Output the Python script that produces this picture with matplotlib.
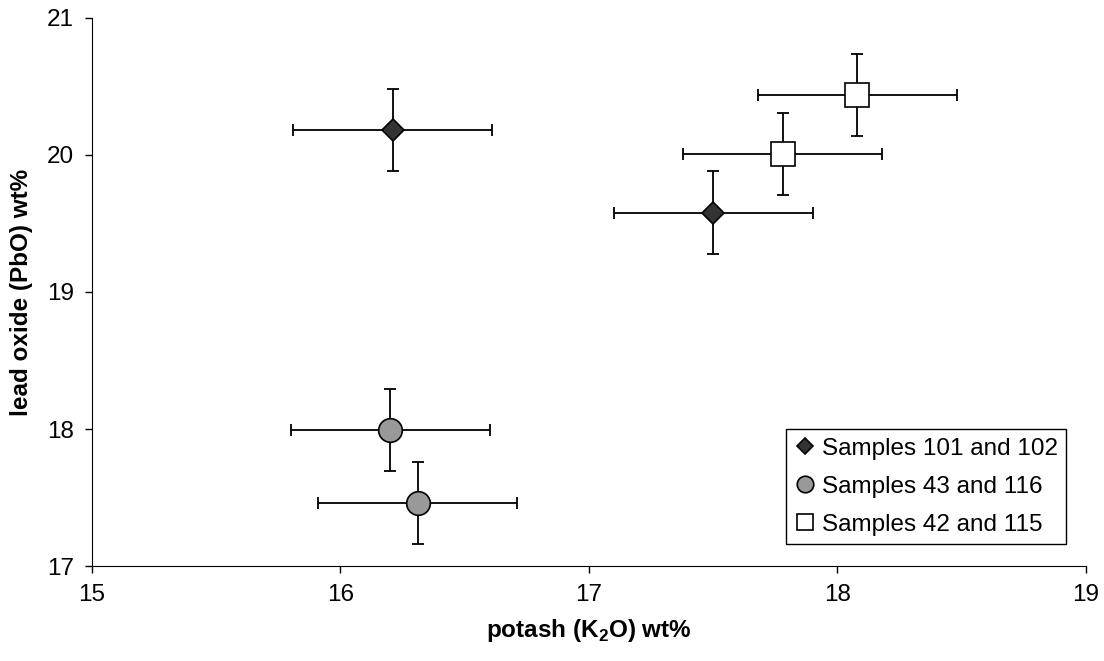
import matplotlib
matplotlib.use('Agg')
import matplotlib.pyplot as plt

plt.rcParams['font.family'] = ['Liberation Sans', 'DejaVu Sans']

# samples 101 and 102
x_dia = [16.21, 17.50]
y_dia = [20.18, 19.58]
# samples 43 and 116
x_circ = [16.20, 16.31]
y_circ = [17.99, 17.46]
# samples 42 and 115
x_sq = [17.78, 18.08]
y_sq = [20.01, 20.44]

xerr = 0.4
yerr = 0.3

labels = ['Samples 101 and 102', 'Samples 43 and 116', 'Samples 42 and 115']

fig = plt.figure(figsize=(11.04, 6.61), dpi=100)
ax = fig.add_axes([0.0833, 0.1437, 0.9004, 0.8291])

for xs, ys in [(x_dia, y_dia), (x_circ, y_circ), (x_sq, y_sq)]:
    ax.errorbar(xs, ys, xerr=xerr, yerr=yerr, fmt='none', ecolor='black',
                elinewidth=1.3, capsize=4, capthick=1.3, zorder=2)

ax.plot(x_dia, y_dia, 'D', ms=11.7, mfc='#333333', mec='black', mew=1.2,
        ls='none', label=labels[0], zorder=3)
ax.plot(x_circ, y_circ, 'o', ms=17, mfc='#999999', mec='black', mew=1.2,
        ls='none', label=labels[1], zorder=3)
ax.plot(x_sq, y_sq, 's', ms=17, mfc='white', mec='black', mew=1.2,
        ls='none', label=labels[2], zorder=3)

ax.set_xlim(15, 19)
ax.set_ylim(17, 21)
ax.set_xticks([15, 16, 17, 18, 19])
ax.set_yticks([17, 18, 19, 20, 21])
ax.spines['top'].set_visible(False)
ax.spines['right'].set_visible(False)
ax.tick_params(direction='out', length=5, width=1, labelsize=17.5, pad=8)

ax.set_xlabel('potash (K$_\\mathregular{2}$O) wt%', fontsize=17.5,
              fontweight='bold', labelpad=8)
ax.set_ylabel('lead oxide (PbO) wt%', fontsize=17.5, fontweight='bold',
              labelpad=10)

leg = ax.legend(loc='lower right', bbox_to_anchor=(0.98, 0.04),
                borderaxespad=0, fontsize=17.5, markerscale=0.7,
                handlelength=0.8, handletextpad=0.3, fancybox=False,
                framealpha=1, edgecolor='black', labelspacing=0.65,
                borderpad=0.35)
leg.get_frame().set_linewidth(1)

fig.savefig('out.png', dpi=100)
